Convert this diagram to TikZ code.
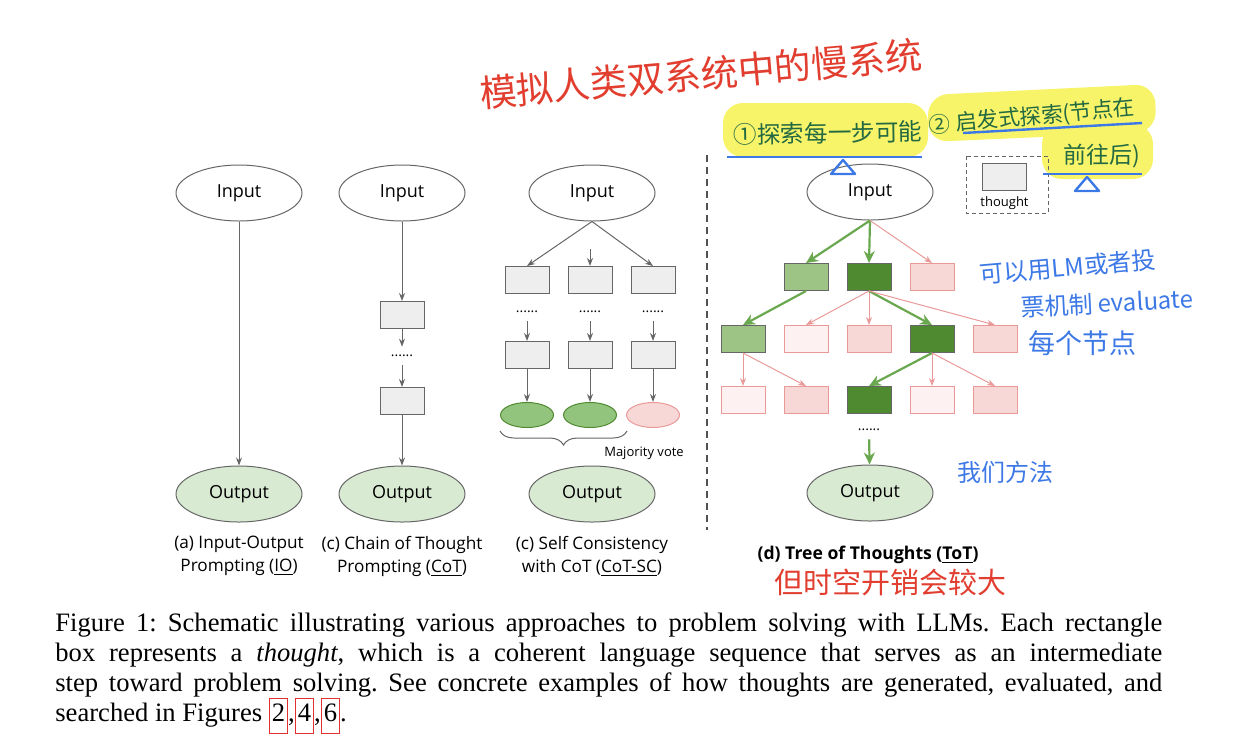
\documentclass[tikz,border=0pt]{standalone}
\usepackage{fontspec}
\setmainfont{Liberation Serif}
\newfontfamily\panelfont{Open Sans}
\newfontfamily\handfont{Noto Sans CJK SC}
\usetikzlibrary{arrows.meta,positioning,shapes.geometric,decorations.pathreplacing}
\definecolor{edgegray}{HTML}{666666}
\definecolor{boxgray}{HTML}{EEEEEE}
\definecolor{outgreen}{HTML}{D9EAD3}
\definecolor{goodgreen}{HTML}{9DC385}
\definecolor{bestgreen}{HTML}{4F8A30}
\definecolor{pickgreen}{HTML}{6AA84F}
\definecolor{votegreen}{HTML}{93C47D}
\definecolor{badpink}{HTML}{F8D7D7}
\definecolor{palepink}{HTML}{FDF1F1}
\definecolor{badline}{HTML}{EA9999}
\definecolor{linkred}{HTML}{E03030}
\definecolor{inkred}{HTML}{E23E30}
\definecolor{inkblue}{HTML}{3C78E6}
\definecolor{inkgreen}{HTML}{236941}
\definecolor{marker}{HTML}{F7F46A}
\newcommand{\figref}[1]{{\setlength{\fboxsep}{1pt}\setlength{\fboxrule}{0.5pt}\fcolorbox{linkred}{white}{\strut#1}}}

\begin{document}
\begin{tikzpicture}[
    x=0.5pt,y=-0.5pt,
    font=\panelfont\fontsize{9}{11}\selectfont,
    io/.style={ellipse,draw=edgegray,line width=.5pt,minimum width=63pt,
      minimum height=28pt,inner sep=0pt},
    inio/.style={io,fill=white},
    outio/.style={io,fill=outgreen},
    tbox/.style={draw=edgegray,fill=boxgray,line width=.5pt,minimum width=22pt,
      minimum height=13.5pt,inner sep=0pt},
    good/.style={tbox,fill=goodgreen},
    best/.style={tbox,fill=bestgreen},
    bad/.style={tbox,fill=badpink,draw=badline},
    worse/.style={tbox,fill=palepink,draw=badline},
    vote/.style={ellipse,line width=.5pt,minimum width=26.5pt,minimum height=12.5pt,
      inner sep=0pt},
    dots/.style={inner xsep=0pt,inner ysep=4pt,font=\panelfont\fontsize{7}{8}\selectfont},
    flow/.style={-{Stealth[length=4pt,width=3pt]},draw=edgegray,line width=.5pt},
    pick/.style={-{Stealth[length=6pt,width=5.5pt]},draw=pickgreen,line width=1.1pt},
    drop/.style={-{Stealth[length=4pt,width=3pt]},draw=badline,line width=.5pt},
    panelcap/.style={align=center,font=\panelfont\fontsize{8.6}{11.5}\selectfont},
    small/.style={inner sep=0pt,font=\panelfont\fontsize{6.5}{8}\selectfont},
    hand/.style={inner sep=0pt},
    ink/.style={draw=inkblue,line width=1.2pt,line join=round}
  ]
    \useasboundingbox (0,0) rectangle (1234,740);

    % highlighter
    \fill[marker,rounded corners=10pt] (723,103) rectangle (928,157);
    \fill[marker,rounded corners=10pt] (928,95) -- (1155,84) -- (1156,132) -- (928,142) -- cycle;
    \fill[marker,rounded corners=10pt] (1042,124) rectangle (1153,179);

    % (a) IO
    \node[inio] (ioin) at (239,193) {Input};
    \node[outio] (ioout) at (239,494) {Output};
    \draw[flow] (ioin) -- (ioout);

    % (b) CoT
    \node[inio] (cotin) at (402,193) {Input};
    \node[tbox] (cotfirst) at (402,315) {};
    \node[dots] (cotdots) at (402,356) {......};
    \node[tbox] (cotlast) at (402,401) {};
    \node[outio] (cotout) at (402,494) {Output};
    \draw[flow] (cotin) -- (cotfirst);
    \draw[flow] (cotfirst) -- (cotdots);
    \draw[flow] (cotdots) -- (cotlast);
    \draw[flow] (cotlast) -- (cotout);

    % (c) CoT-SC
    \node[inio] (scin) at (592,193) {Input};
    \coordinate (scmid) at (590,249);
    \node[tbox] (scafirst) at (527,280) {};
    \node[tbox] (scbfirst) at (590,280) {};
    \node[tbox] (sccfirst) at (653,280) {};
    \node[dots] (scadots) at (527,312) {......};
    \node[dots] (scbdots) at (590,312) {......};
    \node[dots] (sccdots) at (653,312) {......};
    \node[tbox] (scalast) at (527,355) {};
    \node[tbox] (scblast) at (590,355) {};
    \node[tbox] (scclast) at (653,355) {};
    \node[vote,fill=votegreen,draw=bestgreen] (scaans) at (527,415) {};
    \node[vote,fill=votegreen,draw=bestgreen] (scbans) at (590,415) {};
    \node[vote,fill=badpink,draw=badline] (sccans) at (653,415) {};
    \node[outio] (scout) at (592,494) {Output};
    \coordinate (bracel) at (500,431);
    \coordinate (bracer) at (627,431);
    \node[small] (majority) at (644,453) {Majority vote};
    \draw[flow] (scin.south) -- (scafirst.north);
    \draw[flow] (scmid) -- (scbfirst);
    \draw[flow] (scin.south) -- (sccfirst.north);
    \draw[flow] (scadots) -- (scalast);
    \draw[flow] (scbdots) -- (scblast);
    \draw[flow] (sccdots) -- (scclast);
    \draw[flow] (scalast) -- (scaans);
    \draw[flow] (scblast) -- (scbans);
    \draw[flow] (scclast) -- (sccans);
    \draw[edgegray,line width=.5pt,decorate,decoration={brace,mirror,amplitude=7pt}]
      (bracel) -- (bracer);

    \draw[edgegray!80!black,line width=.9pt,dash pattern=on 3.5pt off 2.5pt] (707,155) -- (707,530);

    % (d) ToT
    \node[inio] (totin) at (870,192) {Input};
    \node[good] (ta) at (806,277) {};
    \node[best] (tb) at (869,277) {};
    \node[bad] (tc) at (932,277) {};
    \node[good] (taa) at (743,339) {};
    \node[worse] (tba) at (806,339) {};
    \node[bad] (tbb) at (869,339) {};
    \node[best] (tbc) at (932,339) {};
    \node[bad] (tbd) at (995,339) {};
    \node[worse] (taaa) at (743,400) {};
    \node[bad] (taab) at (806,400) {};
    \node[best] (tbca) at (869,400) {};
    \node[worse] (tbcb) at (932,400) {};
    \node[bad] (tbcc) at (995,400) {};
    \node[dots] (totdots) at (869,430) {......};
    \node[outio] (totout) at (870,493) {Output};
    \draw[pick] (totin.south) -- (ta.north);
    \draw[pick] (totin.south) -- (tb.north);
    \draw[drop] (totin.south) -- (tc.north);
    \draw[pick] (ta.south) -- (taa.north);
    \draw[drop] (tb.south) -- (tba.north);
    \draw[drop] (tb.south) -- (tbb.north);
    \draw[pick] (tb.south) -- (tbc.north);
    \draw[drop] (tb.south) -- (tbd.north);
    \draw[drop] (taa.south) -- (taaa.north);
    \draw[drop] (taa.south) -- (taab.north);
    \draw[pick] (tbc.south) -- (tbca.north);
    \draw[drop] (tbc.south) -- (tbcb.north);
    \draw[drop] (tbc.south) -- (tbcc.north);
    \draw[pick] (totdots) -- (totout);

    \node[tbox] (legbox) at (1004.5,176.5) {};
    \node[small,below=3pt of legbox] (legtext) {thought};
    \draw[edgegray,line width=.5pt,dash pattern=on 2pt off 1.5pt] (966,156) rectangle (1048,213);

    % captions
    \node[panelcap] (capio) at (239,556) {(a) Input-Output\\Prompting (\underline{IO})};
    \node[panelcap] (capcot) at (402,556) {(c) Chain of Thought\\Prompting (\underline{CoT})};
    \node[panelcap] (capsc) at (592,556) {(c) Self Consistency\\with CoT (\underline{CoT-SC})};
    \node[panelcap,font=\panelfont\bfseries\fontsize{8.8}{11}\selectfont] (captot) at (868,555)
      {(d) Tree of Thoughts (\underline{ToT})};

    \node[anchor=north west,text width=553.5pt,align=justify,inner sep=0pt,
      font=\rmfamily\frenchspacing\fontsize{13.3}{15}\selectfont] (figcap) at (55,613)
      {Figure 1: Schematic illustrating various approaches to problem solving with LLMs. Each rectangle\linebreak
       box represents a \textit{thought}, which is a coherent language sequence that serves as an intermediate\linebreak
       step toward problem solving. See concrete examples of how thoughts are generated, evaluated, and\linebreak
       searched in Figures \figref{2},\figref{4},\figref{6}.};

    % notes
    \node[hand,text=inkred,font=\handfont\fontsize{18.5}{20}\selectfont,rotate=5] (slownote)
      at (701,74) {模拟人类双系统中的慢系统};
    \node[hand,text=inkgreen,font=\handfont\fontsize{11.8}{13}\selectfont,rotate=1] (stepnote)
      at (828,133) {①探索每一步可能};
    \node[hand,text=inkgreen,font=\handfont\fontsize{10.8}{13}\selectfont,rotate=5] (heurnote)
      at (1032,117) {② 启发式探索(节点在};
    \node[hand,text=inkgreen,font=\handfont\fontsize{11.5}{13}\selectfont] (heurnoteb)
      at (1102,156) {前往后)};
    \draw[ink] (727,157) -- (922,157);
    \draw[ink] (963,133) -- (1142,123);
    \draw[ink] (1043,174) -- (1142,174);
    \draw[ink] (843,160) -- (855,174) -- (831,174) -- cycle;
    \draw[ink] (1087,177) -- (1099,191) -- (1075,191) -- cycle;
    \node[hand,text=inkblue,font=\handfont\fontsize{12}{13}\selectfont,rotate=5] (evalnote)
      at (1068,267) {可以用LM或者投};
    \node[hand,text=inkblue,font=\handfont\fontsize{12}{13}\selectfont,rotate=3] (evalnoteb)
      at (1107,303) {票机制 evaluate};
    \node[hand,text=inkblue,font=\handfont\fontsize{13.5}{15}\selectfont] (evalnotec)
      at (1082,343) {每个节点};
    \node[hand,text=inkblue,font=\handfont\fontsize{12}{13}\selectfont] (ournote)
      at (1005,472) {我们方法};
    \node[hand,text=inkred,font=\handfont\fontsize{14.5}{16}\selectfont] (costnote)
      at (890,582) {但时空开销会较大};
  \end{tikzpicture}
\end{document}
